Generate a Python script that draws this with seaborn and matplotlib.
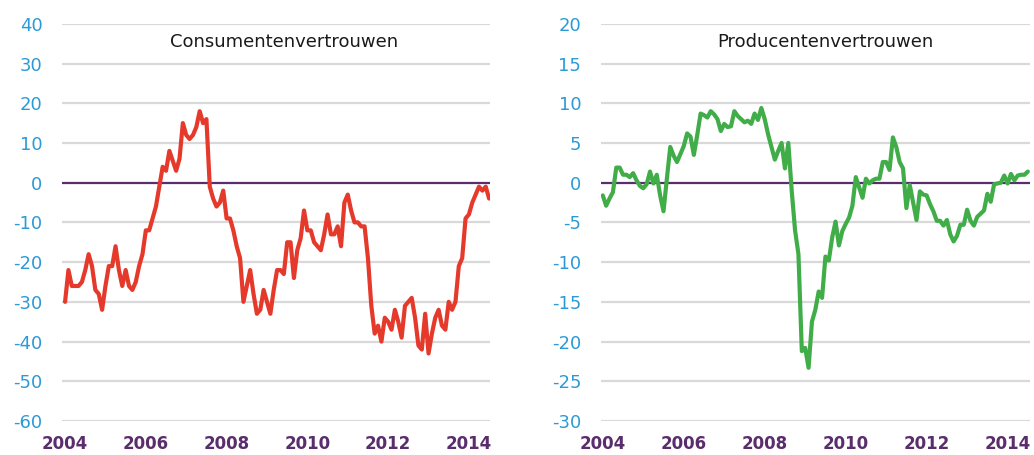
import numpy as np
import pandas as pd
import matplotlib
matplotlib.use("Agg")
import matplotlib.pyplot as plt
import seaborn as sns

# ---- data (monthly, Jan 2004 onward) ----
consument = [
    -30, -22, -26, -26, -26, -25, -22, -18, -21, -27, -28, -32,
    -26, -21, -21, -16, -22, -26, -22, -26, -27, -25, -21, -18,
    -12, -12, -9, -6, -1, 4, 3, 8, 5.5, 3, 6, 15,
    12, 11, 12, 14, 18, 15, 16, -1, -4, -6, -5, -2,
    -9, -9, -12, -16, -19, -30, -26, -22, -28, -33, -32, -27,
    -30, -33, -27, -22, -22, -23, -15, -15, -24, -17, -14, -7,
    -12, -12, -15, -16, -17, -13, -8, -13, -13, -11, -16, -5,
    -3, -7, -10, -10, -11, -11, -19, -31, -38, -36, -40, -34,
    -35, -37, -32, -35, -39, -31, -30, -29, -34, -41, -42, -33,
    -43, -38, -34, -32, -36, -37, -30, -32, -30, -21, -19, -9,
    -8, -5, -3, -1, -2, -1, -4,
]
producent = [
    -1.6, -2.9, -2.0, -1.2, 1.9, 1.9, 1.0, 1.0, 0.7, 1.2, 0.3, -0.4,
    -0.7, -0.2, 1.4, -0.1, 1.0, -1.6, -3.6, 0.5, 4.5, 3.4, 2.6, 3.6,
    4.6, 6.2, 5.8, 3.5, 6.0, 8.7, 8.5, 8.2, 9.0, 8.6, 8.0, 6.5,
    7.4, 7.0, 7.1, 9.0, 8.4, 8.0, 7.6, 7.8, 7.4, 8.7, 7.9, 9.4,
    8.0, 6.1, 4.5, 2.9, 4.0, 5.0, 1.8, 5.0, -1.0, -6.0, -9.0, -21.2,
    -20.8, -23.3, -17.5, -16.0, -13.7, -14.5, -9.3, -9.8, -6.9, -4.9, -7.9, -6.1,
    -5.2, -4.4, -2.9, 0.7, -0.6, -1.9, 0.5, -0.1, 0.3, 0.5, 0.5, 2.6,
    2.6, 1.6, 5.7, 4.5, 2.6, 1.8, -3.2, -0.3, -2.5, -4.7, -1.1, -1.5,
    -1.6, -2.7, -3.6, -4.8, -4.8, -5.4, -4.7, -6.5, -7.4, -6.7, -5.3, -5.3,
    -3.4, -4.8, -5.4, -4.3, -3.9, -3.5, -1.4, -2.4, -0.2, -0.1, 0.0, 0.9,
    -0.1, 1.1, 0.3, 0.9, 1.0, 1.0, 1.4,
]
year_labels = ["2004", "2006", "2008", "2010", "2012", "2014"]
titles = ["Consumentenvertrouwen", "Producentenvertrouwen"]
left_yticks = [40, 30, 20, 10, 0, -10, -20, -30, -40, -50, -60]
right_yticks = [20, 15, 10, 5, 0, -5, -10, -15, -20, -25, -30]

# ---- style ----
sns.set_style("white")
plt.rcParams['font.family'] = ['DejaVu Sans']

RED = "#e5392b"
GREEN = "#41ad49"
PURPLE = "#5a2d6c"
BLUE = "#2b9ad6"
GRID = "#d9d9d9"

fig = plt.figure(figsize=(10.34, 4.55), dpi=100)
ax1 = fig.add_axes([0.060, 0.0747, 0.414, 0.873])
ax2 = fig.add_axes([0.581, 0.0747, 0.415, 0.873])

df1 = pd.DataFrame({"m": np.arange(len(consument)), "v": consument})
df2 = pd.DataFrame({"m": np.arange(len(producent)), "v": producent})

setups = [
    (ax1, df1, RED, left_yticks, (-0.9, 126.3), titles[0], 0.518),
    (ax2, df2, GREEN, right_yticks, (-0.6, 126.6), titles[1], 0.524),
]

for ax, df, col, yt, xl, title, tx in setups:
    for y in yt:
        if y != 0:
            ax.axhline(y, color=GRID, lw=1.6, zorder=1)
    ax.axhline(0, color=PURPLE, lw=1.6, zorder=2)
    sns.lineplot(data=df, x="m", y="v", ax=ax, color=col, lw=3.0, zorder=3)
    ax.set_ylim(min(yt), max(yt))
    ax.set_xlim(*xl)
    ax.set_yticks(yt)
    ax.set_yticklabels([str(v) for v in yt], color=BLUE, fontsize=13)
    ax.set_xticks(np.arange(0, 121, 24))
    ax.set_xticklabels(year_labels, color=PURPLE, fontsize=12, fontweight="bold")
    ax.tick_params(axis="y", length=0, pad=14)
    ax.tick_params(axis="x", length=0, pad=10)
    ax.set_xlabel("")
    ax.set_ylabel("")
    for s in ax.spines.values():
        s.set_visible(False)
    ax.grid(False)
    ax.text(tx, 0.953, title, transform=ax.transAxes, ha="center", va="center",
            fontsize=13, color="#1a1a1a")

fig.savefig("out.png", dpi=100)
